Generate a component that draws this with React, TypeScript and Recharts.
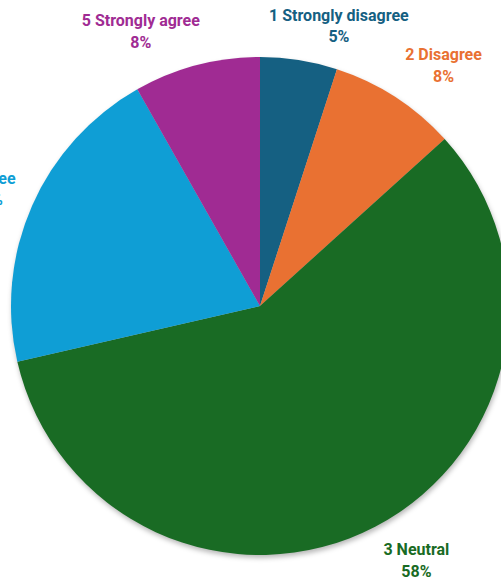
import React from 'react';
import { PieChart, Pie, Cell } from 'recharts';

const categories = ['1 Strongly disagree', '2 Disagree', '3 Neutral', '4 Agree', '5 Strongly agree'];
const shares = [5.0, 8.3, 58.1, 20.4, 8.2];
const colors = ['#156082', '#E97132', '#196B24', '#0F9ED5', '#A02B93'];

const data = categories.map((name, i) => ({ name, value: shares[i] }));

const FONT = '700 16px Roboto';
const RADIAN = Math.PI / 180;

let ctx: CanvasRenderingContext2D | null = null;
const textWidth = (s: string) => {
  if (!ctx) ctx = document.createElement('canvas').getContext('2d');
  if (!ctx) return s.length * 7.6;
  ctx.font = FONT;
  return ctx.measureText(s).width;
};

const clamp = (v: number) => Math.max(-1, Math.min(1, v));

// outside-end labels, box corner hugging the slice's mid angle
const renderLabel = (props: any) => {
  const { cx, cy, outerRadius, midAngle, name, percent, index } = props;
  const dx = Math.cos(-midAngle * RADIAN);
  const dy = Math.sin(-midAngle * RADIAN);
  const r = outerRadius + 18;
  const pct = `${Math.round(percent * 100)}%`;
  const halfW = Math.max(textWidth(name), textWidth(pct)) / 2;
  const x = cx + r * dx + halfW * clamp(3.4 * dx);
  const y = cy + r * dy + 17 * clamp(1.5 * dy);
  return (
    <text
      x={x}
      y={y - 4.5}
      textAnchor="middle"
      fill={colors[index]}
      style={{ font: FONT }}
    >
      <tspan x={x} dy={0}>{name}</tspan>
      <tspan x={x} dy={21.5}>{pct}</tspan>
    </text>
  );
};

export default function App() {
  return (
    <div style={{ position: 'absolute', left: 0, top: 0, width: 501, height: 582, background: '#fff' }}>
      <PieChart width={501} height={582} margin={{ top: 0, right: 0, bottom: 0, left: 0 }}>
        <defs>
          <filter id="pieShadow" x="-10%" y="-10%" width="120%" height="120%">
            <feGaussianBlur stdDeviation="2.5" />
          </filter>
        </defs>
        <Pie
          data={[{ name: 'shadow', value: 1 }]}
          dataKey="value"
          cx={261}
          cy={309}
          outerRadius={249}
          startAngle={90}
          endAngle={-270}
          stroke="none"
          isAnimationActive={false}
          legendType="none"
        >
          <Cell fill="#000" fillOpacity={0.28} filter="url(#pieShadow)" />
        </Pie>
        <Pie
          data={data}
          dataKey="value"
          nameKey="name"
          cx={260}
          cy={306}
          outerRadius={249}
          startAngle={90}
          endAngle={-270}
          stroke="none"
          labelLine={false}
          label={renderLabel}
          isAnimationActive={false}
        >
          {data.map((d, i) => (
            <Cell key={d.name} fill={colors[i]} />
          ))}
        </Pie>
      </PieChart>
    </div>
  );
}
